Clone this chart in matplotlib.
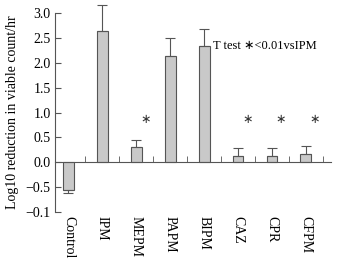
import numpy as np
import matplotlib.pyplot as plt

# --- Data ---
drugs = ["Control", "IPM", "MEPM", "PAPM", "BIPM", "CAZ", "CPR", "CFPM"]
reduction = [-0.56, 2.64, 0.31, 2.13, 2.34, 0.12, 0.12, 0.16]
err = [0.06, 0.53, 0.13, 0.37, 0.34, 0.17, 0.16, 0.17]
signif = ["MEPM", "CAZ", "CPR", "CFPM"]
yticks = [-1.0, -0.5, 0.0, 0.5, 1.0, 1.5, 2.0, 2.5, 3.0]
ytick_labels = ["\u22120.1", "\u22120.5", "0.0", "0.5", "1.0", "1.5", "2.0", "2.5", "3.0"]

plt.rcParams['font.family'] = ['Liberation Serif', 'DejaVu Serif']
plt.rcParams['font.size'] = 10

fig = plt.figure(figsize=(3.37, 2.66), dpi=100)
ax = fig.add_axes([0.163, 0.203, 0.82, 0.748])

x = np.arange(len(drugs))
lower = [e if v < 0 else 0 for v, e in zip(reduction, err)]
upper = [e if v >= 0 else 0 for v, e in zip(reduction, err)]
bars = ax.bar(x, reduction, width=0.32, color="#c9c9c9", edgecolor="#555555", linewidth=0.8,
              yerr=[lower, upper], capsize=3.5,
              error_kw=dict(ecolor="#555555", elinewidth=0.8, capthick=0.8))
for artist in bars.errorbar.lines[1] + bars.errorbar.lines[2]:
    artist.set_clip_on(False)

# significance stars
for d in signif:
    i = drugs.index(d)
    ax.text(i + 0.27, 0.85, "\u2217", ha="center", va="center", fontsize=9,
            color="#333333", family=['DejaVu Sans'])
ax.text(4.25, 2.34, "T test \u2217<0.01vsIPM", ha="left", va="center", fontsize=9,
        family=['Liberation Serif', 'DejaVu Sans'])

ax.set_ylim(-1, 3)
ax.set_xlim(-0.4, 7.75)
ax.set_yticks(yticks)
ax.set_yticklabels(ytick_labels)
ax.tick_params(axis='y', direction='in', length=4, color="#555555", pad=3)

# x axis drawn at zero with boundary ticks, labels below
ax.spines['top'].set_visible(False)
ax.spines['right'].set_visible(False)
ax.spines['bottom'].set_position(('data', 0))
ax.spines['bottom'].set_color("#555555")
ax.spines['left'].set_color("#555555")
ax.set_xticks(x)
ax.set_xticklabels(drugs, rotation=270, va="top", ha="center")
ax.tick_params(axis='x', which='major', length=0, pad=39)
ax.set_xticks(np.arange(0.5, len(drugs)), minor=True)
ax.tick_params(axis='x', which='minor', direction='in', length=4, color="#555555")

ax.set_ylabel("Log10 reduction in viable count/hr", fontsize=10, labelpad=5)

fig.savefig("out.png", dpi=100)
